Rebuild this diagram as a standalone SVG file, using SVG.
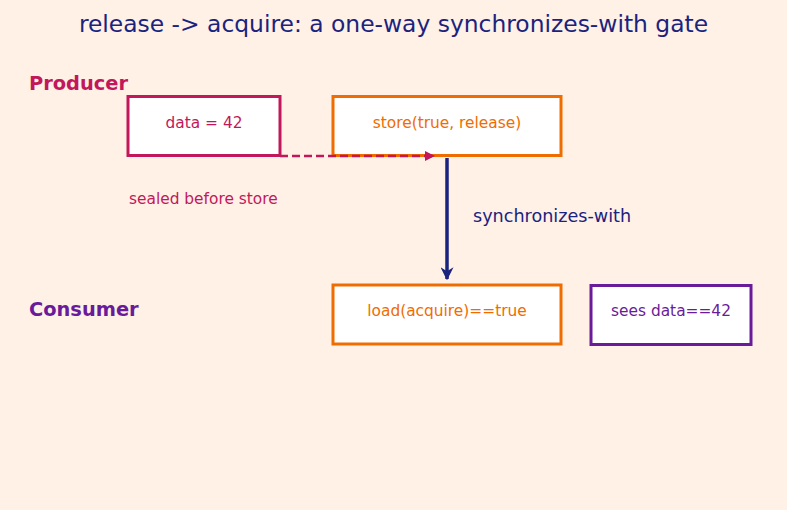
<svg xmlns="http://www.w3.org/2000/svg" width="787" height="510" viewBox="0 0 787 510">
<style>
text{font-family:"DejaVu Sans",Verdana,sans-serif}
.box{fill:#fff;stroke-width:3}
.lbl{font-size:15.4px;text-anchor:middle}
</style>
<defs>
<marker id="ah1" viewBox="0 0 10 10" refX="9" refY="5" markerWidth="10" markerHeight="10" markerUnits="userSpaceOnUse" orient="auto"><path d="M0,0 L10,5 L0,10 z" fill="#c2185b"/></marker>
<marker id="ah2" viewBox="0 0 10 10" refX="9" refY="5" markerWidth="13" markerHeight="13" markerUnits="userSpaceOnUse" orient="auto"><path d="M0,0 L10,5 L0,10 L3,5 z" fill="#1a237e"/></marker>
</defs>
<rect width="787" height="510" fill="#fff1e6"/>
<text x="393.5" y="32" font-size="23.4" text-anchor="middle" fill="#1a237e">release -&gt; acquire: a one-way synchronizes-with gate</text>
<text x="29" y="89.5" font-size="19.4" font-weight="bold" fill="#c2185b">Producer</text>
<text x="29" y="315.5" font-size="19.4" font-weight="bold" fill="#6a1b9a">Consumer</text>
<g id="data">
<rect class="box" x="128" y="96.5" width="152" height="59" stroke="#c2185b"/>
<text class="lbl" x="204" y="127.5" fill="#c2185b">data = 42</text>
</g>
<g id="store">
<rect class="box" x="333" y="96.5" width="228" height="59" stroke="#ef6c00"/>
<text class="lbl" x="447" y="127.5" fill="#ef6c00">store(true, release)</text>
</g>
<g id="load">
<rect class="box" x="333" y="285" width="228" height="59" stroke="#ef6c00"/>
<text class="lbl" x="447" y="315.5" fill="#ef6c00">load(acquire)==true</text>
</g>
<g id="sees">
<rect class="box" x="591" y="285.5" width="160" height="59" stroke="#6a1b9a"/>
<text class="lbl" x="671" y="315.5" fill="#6a1b9a">sees data==42</text>
</g>
<g id="connectors">
<line x1="280" y1="156" x2="434" y2="156" stroke="#c2185b" stroke-width="2.5" stroke-dasharray="8,4" marker-end="url(#ah1)"/>
<line x1="447" y1="158" x2="447" y2="279" stroke="#1a237e" stroke-width="3.5" marker-end="url(#ah2)"/>
<text x="129" y="203.5" font-size="15.4" fill="#c2185b">sealed before store</text>
<text x="473" y="221.5" font-size="17.6" fill="#1a237e">synchronizes-with</text>
</g>
</svg>
